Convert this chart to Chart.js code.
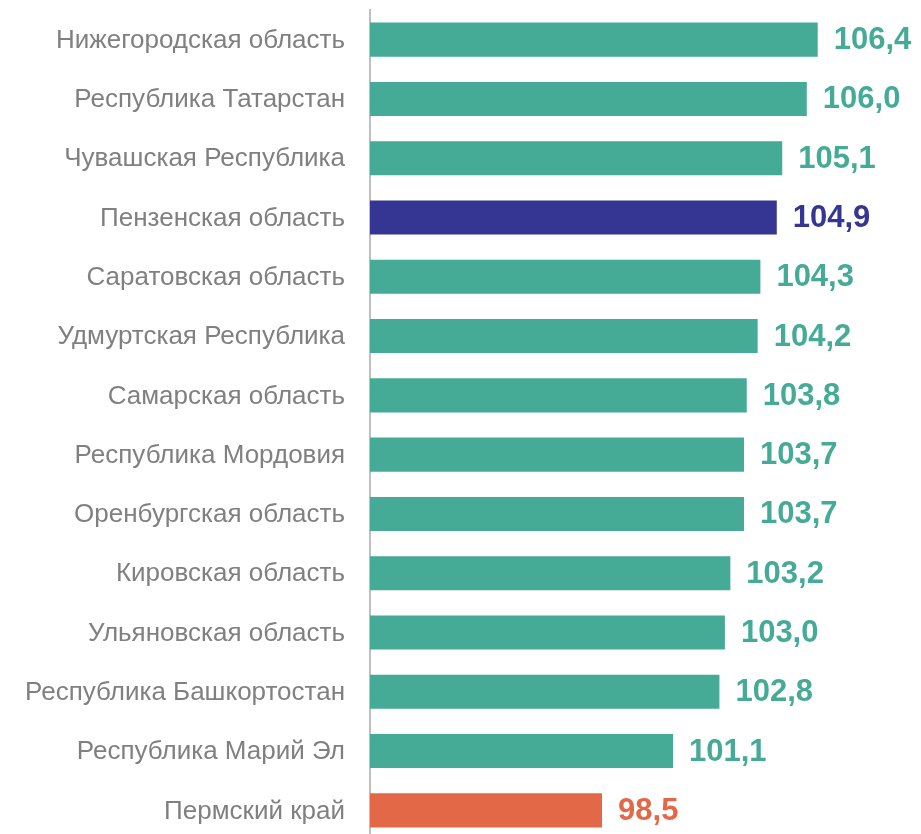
<!DOCTYPE html>
<html>
<head>
<meta charset="utf-8">
<script src="https://cdn.jsdelivr.net/npm/chart.js@4/dist/chart.umd.min.js"></script>
<style>
  html, body { margin: 0; padding: 0; background: #fff; overflow: hidden; }
  #wrap { position: absolute; left: 0; top: 0; width: 921px; height: 840px; }
</style>
</head>
<body>
<div id="wrap"><canvas id="chart" width="921" height="840"></canvas></div>
<script>
// regions and index values (%)
const regions = [
    'Нижегородская область',
    'Республика Татарстан',
    'Чувашская Республика',
    'Пензенская область',
    'Саратовская область',
    'Удмуртская Республика',
    'Самарская область',
    'Республика Мордовия',
    'Оренбургская область',
    'Кировская область',
    'Ульяновская область',
    'Республика Башкортостан',
    'Республика Марий Эл',
    'Пермский край'
];
const values = [106.4, 106.0, 105.1, 104.9, 104.3, 104.2, 103.8, 103.7, 103.7, 103.2, 103.0, 102.8, 101.1, 98.5];

const TEAL = '#45aa96';
const NAVY = '#353594';
const ORANGE = '#e36847';
const FONT = '"Liberation Sans", Arial, sans-serif';

function barColor(label) {
    if (label === 'Пензенская область') return NAVY;
    if (label === 'Пермский край') return ORANGE;
    return TEAL;
}
const colors = regions.map(barColor);

// value labels at the end of each bar
const valueLabels = {
    id: 'valueLabels',
    afterDatasetsDraw(chart) {
        const ctx = chart.ctx;
        const meta = chart.getDatasetMeta(0);
        ctx.save();
        ctx.font = 'bold 31px ' + FONT;
        ctx.textAlign = 'left';
        ctx.textBaseline = 'middle';
        meta.data.forEach(function(bar, i) {
            ctx.fillStyle = colors[i];
            ctx.fillText(values[i].toFixed(1).replace('.', ','), bar.x + 16, bar.y + 1);
        });
        ctx.restore();
    }
};

new Chart(document.getElementById('chart'), {
    type: 'bar',
    data: {
        labels: regions,
        datasets: [{
            data: values,
            backgroundColor: colors,
            barPercentage: 0.575,
            categoryPercentage: 1.0
        }]
    },
    options: {
        indexAxis: 'y',
        responsive: false,
        animation: false,
        layout: { padding: { top: 10, right: 5, bottom: 0, left: 0 } },
        plugins: {
            legend: { display: false },
            tooltip: { enabled: false }
        },
        scales: {
            x: {
                display: false,
                min: 90,
                max: 110
            },
            y: {
                afterFit: function(scale) {
                    scale.width = 370;
                    scale.paddingTop = 0;
                    scale.paddingBottom = 0;
                },
                grid: { display: false },
                border: { color: '#bfbfbf', width: 2 },
                ticks: {
                    color: '#808080',
                    padding: 17,
                    labelOffset: 1,
                    font: { family: FONT, size: 26 }
                }
            }
        }
    },
    plugins: [valueLabels]
});
</script>
</body>
</html>
